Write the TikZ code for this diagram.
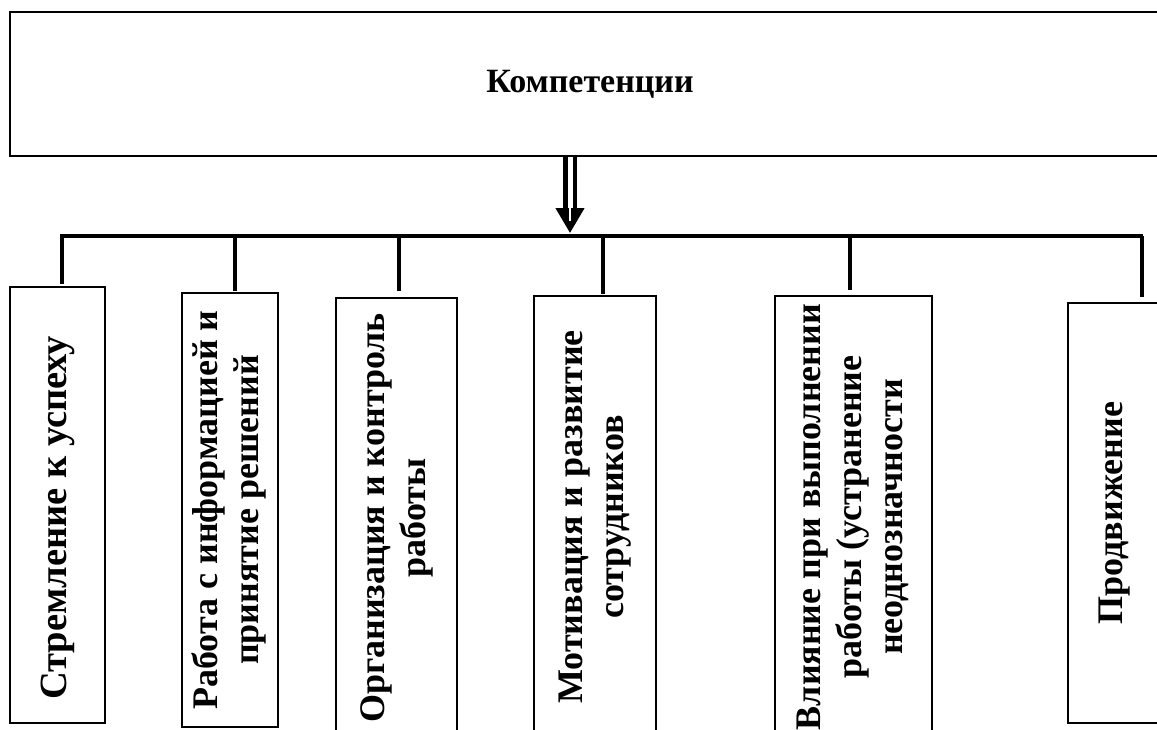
\documentclass[tikz,border=0pt]{standalone}
\usepackage{fontspec}
\setmainfont{Liberation Serif}
\usetikzlibrary{arrows.meta}

\newcommand{\vtext}[1]{\rotatebox{90}{\begin{tabular}{@{}c@{}}#1\end{tabular}}}

\begin{document}
\begin{tikzpicture}[x=1pt, y=-1pt,
  box/.style={draw, line width=1.3pt, inner sep=0pt},
  bar/.style={line width=4.5pt},
  drop/.style={line width=4pt},
  every node/.style={font=\bfseries\fontsize{36}{41}\selectfont}]

\useasboundingbox (0,0) rectangle (1157,729);
\clip (0,0) rectangle (1157,729);

% top box
\node[box, line width=2pt, minimum width=1160pt, minimum height=144pt,
  font=\bfseries\fontsize{34}{40}\selectfont] (comp) at (590,84) {Компетенции};

% the boxes below
\node[box, minimum width=95pt, minimum height=436pt,
  font=\bfseries\fontsize{38.5}{44}\selectfont] (b1) at (57.5,505) {\vtext{Стремление к успеху\kern26pt}};
\node[box, minimum width=96pt, minimum height=434pt] (b2) at (230,510) {\vtext{Работа с информацией и\\принятие решений}};
\node[box, minimum width=121pt, minimum height=440pt] (b3) at (396.5,518) {\vtext{Организация и контроль\\работы}};
\node[box, minimum width=122pt, minimum height=442pt] (b4) at (595,517) {\vtext{Мотивация и развитие\\сотрудников}};
\node[box, minimum width=157pt, minimum height=442pt] (b5) at (853.5,517) {\vtext{Влияние при выполнении\\работы (устранение\\неоднозначности}};
\node[box, minimum width=92pt, minimum height=420pt] (b6) at (1114,513) {\vtext{Продвижение}};

% bus line
\coordinate (busL) at (60,236);
\coordinate (busR) at (1143,236);
\draw[bar] (busL) -- (busR);

% double arrow down to the bus
\coordinate (arrtop) at ([xshift=-20pt]comp.south);
\coordinate (arrtip) at ([yshift=3pt]arrtop |- busL);
\draw[line width=4.5pt, double, double distance=5pt, -{Triangle[length=25pt, width=28pt]}]
  (arrtop) -- (arrtip);
\draw[white, line width=2.5pt] (arrtop) -- ([yshift=12pt]arrtip);

\foreach \b/\dx/\gap in {b1/4.5/2, b2/5/1, b3/2.5/6, b4/8/1, b5/-3.5/5, b6/28/5}
  \draw[drop] ([xshift=\dx pt]\b.north |- busL) -- ([xshift=\dx pt, yshift=\gap pt]\b.north);

\end{tikzpicture}
\end{document}
